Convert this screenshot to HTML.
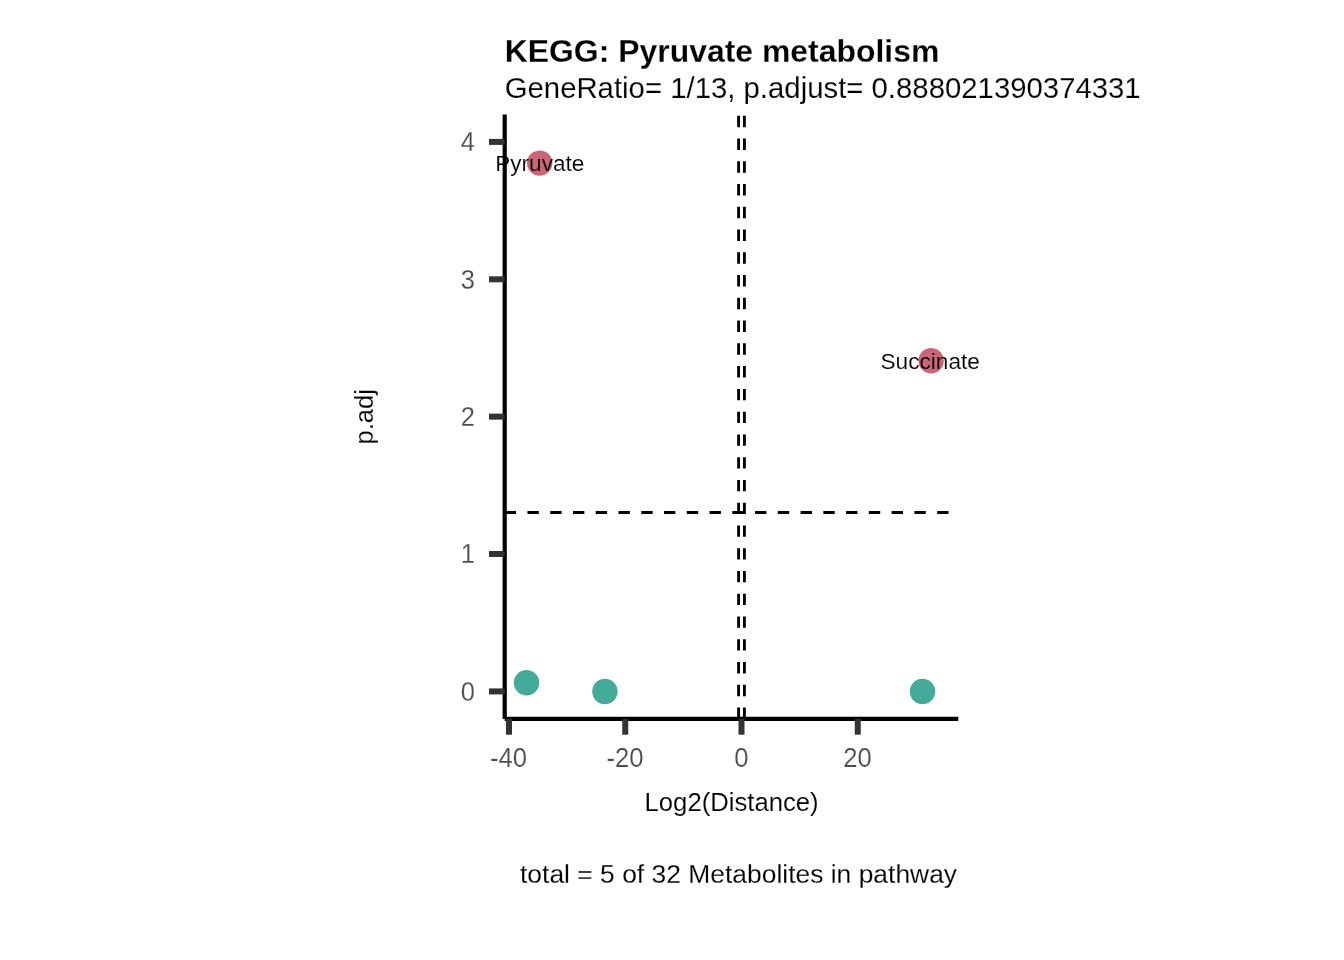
<!DOCTYPE html>
<html><head><meta charset="utf-8">
<style>
html,body{margin:0;padding:0;background:#fff;width:1344px;height:960px;overflow:hidden}
svg{display:block;will-change:transform}
text{font-family:"Liberation Sans",sans-serif}
</style></head>
<body>
<svg width="1344" height="960" viewBox="0 0 1344 960">
<defs>
<mask id="mLab" maskUnits="userSpaceOnUse" x="0" y="0" width="1344" height="960">
<g font-size="22.76" fill="#fff" stroke="#000" stroke-width="0.25" text-anchor="middle">
<text transform="translate(539.8 170.9) scale(0.992 1)">Pyruvate</text>
<text transform="translate(930.2 368.8) scale(0.994 1)">Succinate</text>
</g>
</mask>
<mask id="mAxis" maskUnits="userSpaceOnUse" x="0" y="0" width="1344" height="960">
<g font-size="27.7" fill="#fff" stroke="#000" stroke-width="0.25">
<g text-anchor="end">
<text transform="translate(475 151) scale(0.92 1)">4</text>
<text transform="translate(475 288.8) scale(0.92 1)">3</text>
<text transform="translate(475 425.8) scale(0.92 1)">2</text>
<text transform="translate(475 563.1) scale(0.92 1)">1</text>
<text transform="translate(475 700.5) scale(0.92 1)">0</text>
</g>
<g text-anchor="middle">
<text transform="translate(508.6 766.8) scale(0.925 1)">-40</text>
<text transform="translate(625 766.8) scale(0.925 1)">-20</text>
<text transform="translate(741.5 766.8) scale(0.925 1)">0</text>
<text transform="translate(857.6 766.8) scale(0.925 1)">20</text>
</g>
</g>
</mask>
<mask id="mTxt" maskUnits="userSpaceOnUse" x="0" y="0" width="1344" height="960">
<g fill="#fff" stroke="#000" stroke-width="0.25">
<text transform="translate(731.6 811.0) scale(0.963 1)" font-size="26.67" text-anchor="middle">Log2(Distance)</text>
<text transform="translate(372.8 416.8) rotate(-90) scale(0.956 1)" font-size="26.67" text-anchor="middle">p.adj</text>
<text transform="translate(738.55 882.9) scale(0.991 1)" font-size="26.67" text-anchor="middle">total = 5 of 32 Metabolites in pathway</text>
<text transform="translate(504.7 97.7)" font-size="29.33">GeneRatio= 1/13, p.adjust= 0.888021390374331</text>
</g>
</mask>
<mask id="mTitle" maskUnits="userSpaceOnUse" x="0" y="0" width="1344" height="960">
<text transform="translate(504.7 61.6) scale(0.998 1)" font-size="32" font-weight="bold" fill="#fff" stroke="#000" stroke-width="0.3">KEGG: Pyruvate metabolism</text>
</mask>
</defs>
<rect width="1344" height="960" fill="#fff"/>
<g>
<circle cx="526.5" cy="682.8" r="12.7" fill="#44AA99"/>
<circle cx="604.9" cy="691.5" r="12.7" fill="#44AA99"/>
<circle cx="922.5" cy="691.4" r="12.7" fill="#44AA99"/>
<circle cx="539.7" cy="163.1" r="12.7" fill="#CC6677"/>
<circle cx="931.1" cy="360.8" r="12.7" fill="#CC6677"/>
</g>
<rect width="1344" height="960" fill="#000" mask="url(#mLab)"/>
<g stroke="#000" stroke-width="2.85" stroke-dasharray="11.38 11.38" fill="none">
<path d="M738.6 718.9 V114.4"/>
<path d="M744.4 718.9 V114.4"/>
<path d="M504.7 512.5 H958.3"/>
</g>
<g stroke="#000" stroke-width="4.2" fill="none">
<path d="M504.7 114.4 V718.9"/>
<path d="M504.7 718.9 H958.3"/>
</g>
<g stroke="#333333" stroke-width="6" fill="none">
<path d="M489 141.9 H504.7"/>
<path d="M489 279.3 H504.7"/>
<path d="M489 416.65 H504.7"/>
<path d="M489 554.0 H504.7"/>
<path d="M489 691.4 H504.7"/>
<path d="M509 718.9 V734.7"/>
<path d="M625.25 718.9 V734.7"/>
<path d="M741.5 718.9 V734.7"/>
<path d="M857.75 718.9 V734.7"/>
</g>
<rect width="1344" height="960" fill="#4D4D4D" mask="url(#mAxis)"/>
<rect width="1344" height="960" fill="#000" mask="url(#mTxt)"/>
<rect width="1344" height="960" fill="#000" mask="url(#mTitle)"/>
</svg>
</body></html>
